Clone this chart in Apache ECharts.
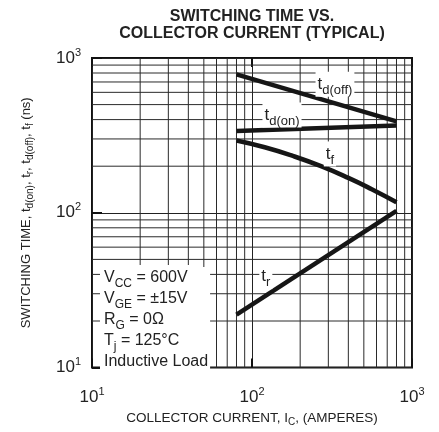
<!DOCTYPE html>
<html>
<head>
<meta charset="utf-8">
<script src="https://cdn.jsdelivr.net/npm/echarts@6/dist/echarts.min.js"></script>
<style>
  html, body { margin: 0; padding: 0; background: #fff; }
  #chart { width: 439px; height: 432px; }
</style>
</head>
<body>
<div id="chart"></div>
<script>
// collector current (A) vs switching time (ns)
var tdOff = [[80, 783], [800, 390]]
var tdOn = [[80, 338], [800, 367]]
var tf = [[80, 293], [120, 265], [180, 233], [270, 200], [400, 168], [560, 142], [800, 117]]
var tr = [[80, 22], [800, 103]]

// where the curve names sit (data coords)
var tdOffLabel = [330, 676]
var tdOnLabel = [154, 428]
var tfLabel = [307, 240]
var trLabel = [122, 38.7]

// log grid: decades and the 2..9 lines in between
var decades = [10, 100, 1000]
var minorLines = [20, 30, 40, 50, 60, 70, 80, 90, 200, 300, 400, 500, 600, 700, 800, 900]

var conditions = [
  'V{s|CC} = 600V',
  'V{s|GE} = \u00b115V',
  'R{s|G} = 0\u03a9',
  'T{s|j} = 125\u00b0C',
  'Inductive Load'
]

var FONT = '"Liberation Sans", Arial, sans-serif'
var INK = '#222'

var chart = echarts.init(document.getElementById('chart'))

function tickLabel (v) {
  return '10{sup|' + Math.round(Math.log10(v)) + '}'
}

function nameMark (pos, sub) {
  return {
    symbol: 'rect',
    symbolSize: 0,
    silent: true,
    z: 10,
    data: [{coord: pos}],
    label: {
      show: true,
      position: 'inside',
      formatter: 't{s|' + sub + '}',
      backgroundColor: '#fff',
      padding: [0, 2],
      fontFamily: FONT,
      fontSize: 17,
      color: INK,
      rich: {s: {fontSize: 13, fontFamily: FONT, color: INK, padding: [12, 0, 0, 0]}}
    }
  }
}

function curve (name, data, smooth, pos, sub) {
  return {
    name: name,
    type: 'line',
    data: data,
    smooth: smooth,
    symbol: 'none',
    z: 3,
    lineStyle: {color: '#161616', width: 4.5, cap: 'butt'},
    markPoint: nameMark(pos, sub)
  }
}

// thin grid lines through the axes' own scales
function gridSeries (vertical) {
  return {
    type: 'custom',
    silent: true,
    z: 1,
    clip: false,
    data: minorLines.map(function (v) { return vertical ? [v, 100] : [100, v] }),
    renderItem: function (params, api) {
      var a, b
      if (vertical) {
        a = api.coord([api.value(0), decades[0]])
        b = api.coord([api.value(0), decades[2]])
      } else {
        a = api.coord([decades[0], api.value(1)])
        b = api.coord([decades[2], api.value(1)])
      }
      return {
        type: 'line',
        shape: {x1: a[0], y1: a[1], x2: b[0], y2: b[1]},
        style: {stroke: '#2a2a2a', lineWidth: 1}
      }
    }
  }
}

var logAxis = {
  type: 'log',
  logBase: 10,
  min: decades[0],
  max: decades[decades.length - 1],
  splitNumber: 2,
  axisLine: {show: false},
  splitLine: {show: true, lineStyle: {color: '#222', width: 1}},
  minorTick: {show: false}
}

var option = {
  animation: false,
  backgroundColor: '#fff',
  grid: {left: 92, right: 27, top: 58, bottom: 54, show: true, borderColor: '#111', borderWidth: 2},
  xAxis: [
    Object.assign({}, logAxis, {
      position: 'bottom',
      axisTick: {show: true, inside: true, length: 9, lineStyle: {color: '#111', width: 2}},
      axisLabel: {
        margin: 19,
        formatter: tickLabel,
        fontFamily: FONT,
        fontSize: 17,
        color: INK,
        rich: {sup: {fontSize: 11, fontFamily: FONT, color: INK, padding: [0, 0, 11, 0]}}
      },
      name: 'COLLECTOR CURRENT, I{s|C}, (AMPERES)',
      nameLocation: 'middle',
      nameGap: 37,
      nameTextStyle: {
        fontFamily: FONT,
        fontSize: 13.5,
        color: INK,
        rich: {s: {fontSize: 10, fontFamily: FONT, color: INK, padding: [8, 0, 0, 0]}}
      }
    }),
    Object.assign({}, logAxis, {
      position: 'top',
      splitLine: {show: false},
      axisTick: {show: true, inside: true, length: 9, lineStyle: {color: '#111', width: 2}},
      axisLabel: {show: false}
    })
  ],
  yAxis: Object.assign({}, logAxis, {
    axisTick: {show: true, inside: true, length: 10, lineStyle: {color: '#111', width: 2}},
    axisLabel: {
      margin: 11,
      formatter: tickLabel,
      fontFamily: FONT,
      fontSize: 17,
      color: INK,
      rich: {sup: {fontSize: 11, fontFamily: FONT, color: INK, padding: [0, 0, 11, 0]}}
    },
    name: 'SWITCHING TIME, t{s|d(on)}, t{s|r}, t{s|d(off)}, t{s|f} (ns)',
    nameLocation: 'middle',
    nameGap: 57,
    nameTextStyle: {
      fontFamily: FONT,
      fontSize: 13,
      color: INK,
      rich: {s: {fontSize: 10, fontFamily: FONT, color: INK, padding: [7, 0, 0, 0]}}
    }
  }),
  graphic: [
    {
      type: 'text',
      x: 252,
      y: 8,
      style: {
        x: 0,
        y: 0,
        text: 'SWITCHING TIME VS.\nCOLLECTOR CURRENT (TYPICAL)',
        align: 'center',
        font: 'bold 16px ' + FONT,
        lineHeight: 17,
        fill: INK
      }
    },
    {
      type: 'rect',
      z: 50,
      shape: {x: 100, y: 265, width: 94, height: 109},
      style: {fill: '#fff'}
    },
    {
      type: 'text',
      z: 51,
      x: 102,
      y: 267,
      style: {
        x: 0,
        y: 0,
        text: conditions.join('\n'),
        fontFamily: FONT,
        fontSize: 16,
        lineHeight: 21,
        fill: INK,
        backgroundColor: '#fff',
        padding: [0, 2],
        rich: {s: {fontSize: 12, fontFamily: FONT, fill: INK, padding: [12, 0, 0, 0]}}
      }
    }
  ],
  series: [
    gridSeries(true),
    gridSeries(false),
    curve('td(off)', tdOff, false, tdOffLabel, 'd(off)'),
    curve('td(on)', tdOn, false, tdOnLabel, 'd(on)'),
    curve('tf', tf, true, tfLabel, 'f'),
    curve('tr', tr, false, trLabel, 'r')
  ]
}

chart.setOption(option)
</script>
</body>
</html>
